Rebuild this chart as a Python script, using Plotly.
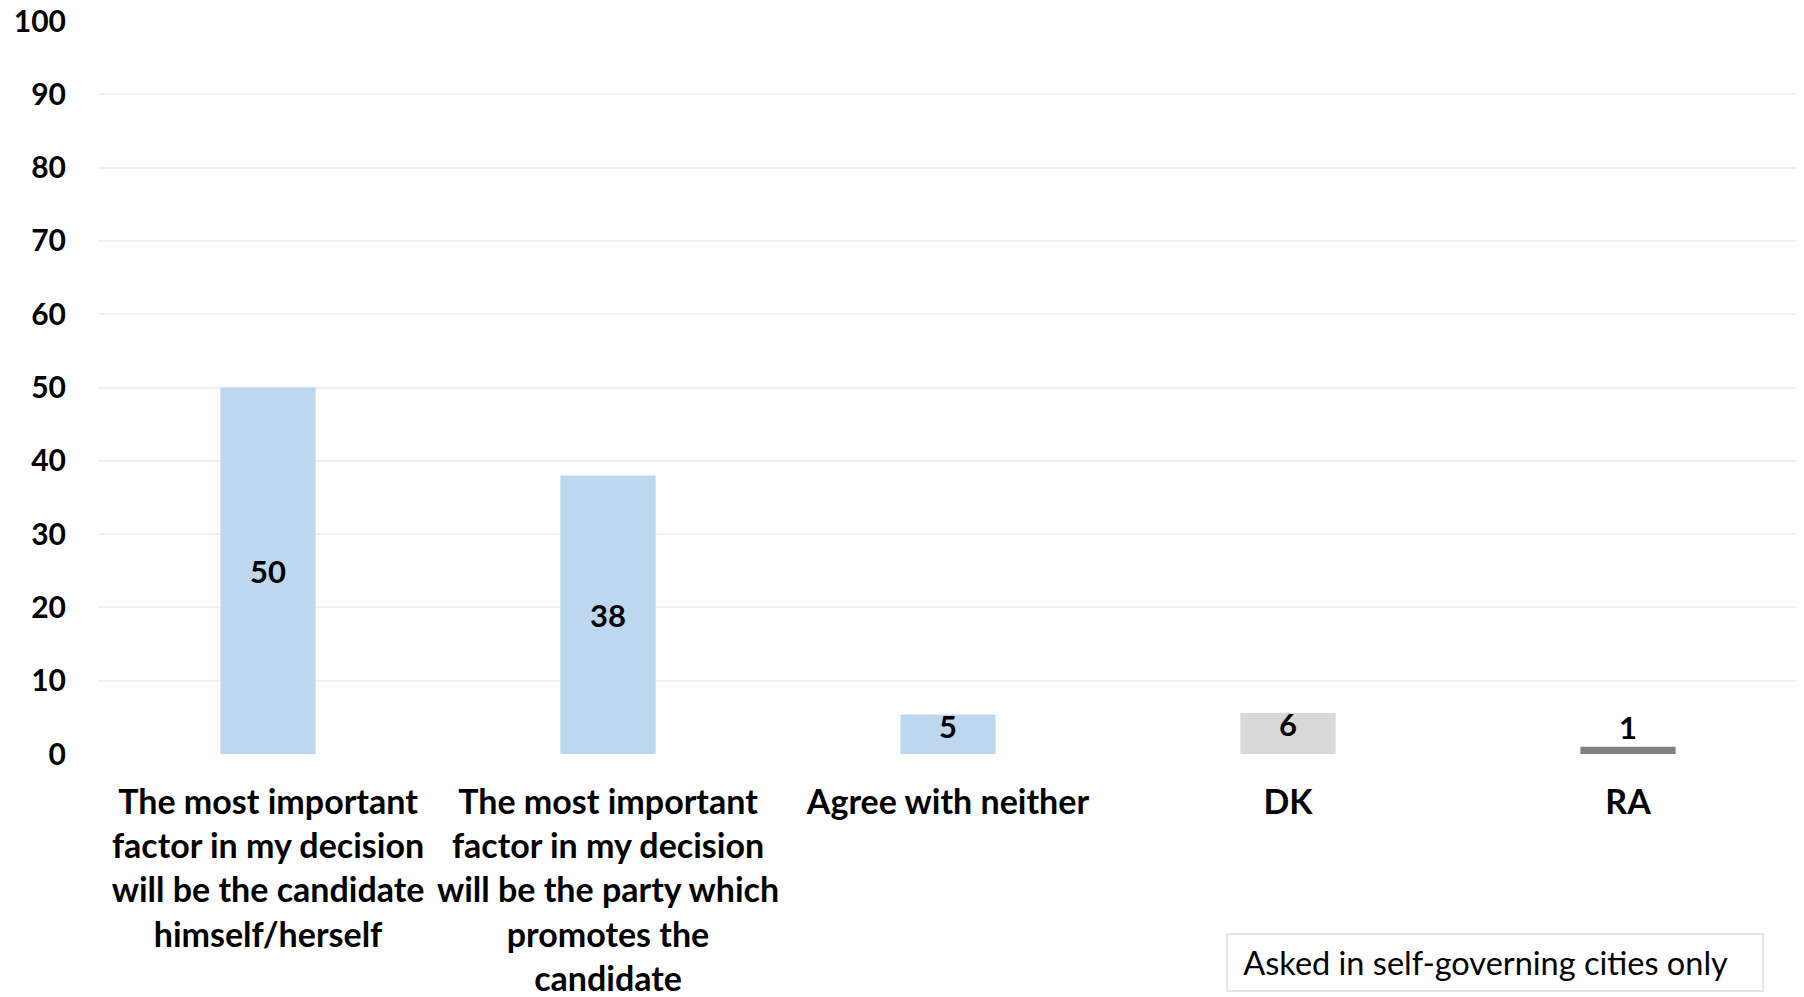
import plotly.graph_objects as go

categories = [
    "The most important<br>factor in my decision<br>will be the candidate<br>himself/herself",
    "The most important<br>factor in my decision<br>will be the party which<br>promotes the<br>candidate",
    "Agree with neither",
    "DK",
    "RA",
]
values = [50, 38, 5.4, 5.6, 1]
bar_colors = ["#BDD7EE", "#BDD7EE", "#BDD7EE", "#D9D9D9", "#7F7F7F"]
y_ticks = [0, 10, 20, 30, 40, 50, 60, 70, 80, 90, 100]
note_text = "Asked in self-governing cities only"

FONT = "Lato"

big_text = [f"{v:.0f}" if v >= 10 else "" for v in values]
small_idx = [i for i, v in enumerate(values) if v < 10]

fig = go.Figure()
fig.add_trace(go.Bar(
    x=categories, y=values,
    marker=dict(color=bar_colors, line=dict(width=0)),
    text=big_text, textposition="inside", insidetextanchor="middle",
    textfont=dict(family=FONT, size=31, color="#000000", weight="bold"),
    hoverinfo="skip", showlegend=False,
))
fig.add_trace(go.Scatter(
    x=[categories[i] for i in small_idx],
    y=[values[i] for i in small_idx],
    mode="text",
    text=[f"{values[i]:.0f}" for i in small_idx],
    textposition=["bottom center" if values[i] >= 3 else "top center" for i in small_idx],
    textfont=dict(family=FONT, size=31, color="#000000", weight="bold"),
    cliponaxis=False, hoverinfo="skip", showlegend=False,
))

# page body has an 8px default margin, so the figure is drawn 8px smaller
fig.update_layout(
    width=1796, height=989,
    margin=dict(l=90, r=6, t=13, b=243, autoexpand=False),
    paper_bgcolor="white", plot_bgcolor="white",
    bargap=0.72,
    font=dict(family=FONT, color="#000000"),
    xaxis=dict(
        tickfont=dict(family=FONT, size=34, color="#000000", weight="bold"),
        showgrid=False, showline=False, zeroline=False, automargin=False,
        ticks="", ticklabelstandoff=25,
    ),
    yaxis=dict(
        range=[0, 100], tickvals=y_ticks,
        tickfont=dict(family=FONT, size=30, color="#000000", weight="bold"),
        showgrid=True, gridcolor="#F0F0F0", gridwidth=2, automargin=False,
        zeroline=False, showline=False, ticks="", ticklabelstandoff=31,
        ticklabeloverflow="allow",
    ),
    annotations=[dict(
        text="&nbsp;" + note_text, xref="paper", yref="paper",
        x=0.8218, y=-0.285,
        xanchor="center", yanchor="middle", showarrow=False,
        font=dict(family=FONT, size=32.5, color="#000000"),
        bordercolor="#E6E6E6", borderwidth=2, borderpad=8, bgcolor="white",
        width=518, align="left",
    )],
)

fig.write_html("out.html")
